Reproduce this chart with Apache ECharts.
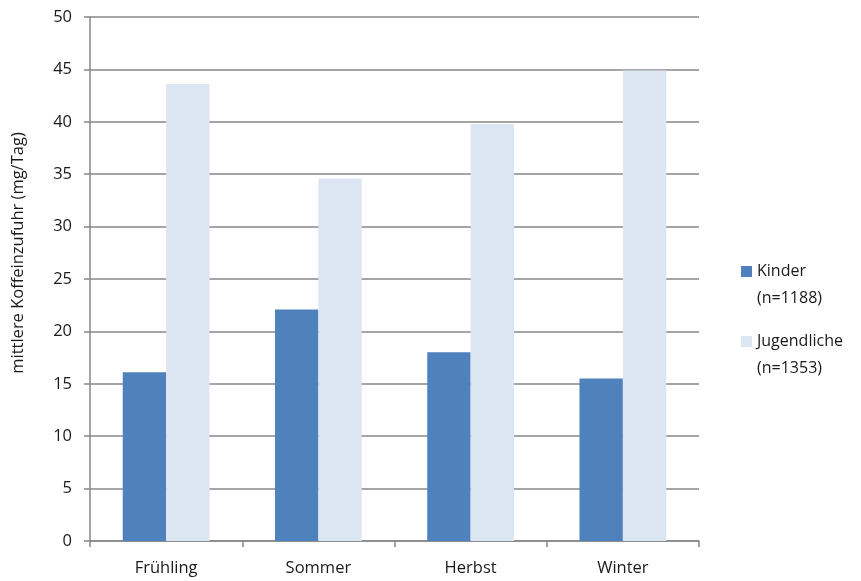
<!DOCTYPE html>
<html>
<head>
<meta charset="utf-8">
<script src="https://cdn.jsdelivr.net/npm/echarts@6/dist/echarts.min.js"></script>
<style>
  html, body { margin: 0; padding: 0; background: #ffffff; }
  #chart { width: 861px; height: 581px; }
</style>
</head>
<body>
<div id="chart"></div>
<script>
// Mean caffeine intake by season (mg/day)
const seasons = ['Frühling', 'Sommer', 'Herbst', 'Winter'];
const kinder = [16.1, 22.1, 18.0, 15.5];
const jugendliche = [43.6, 34.6, 39.8, 44.9];
const sampleSizes = { Kinder: '(n=1188)', Jugendliche: '(n=1353)' };
const yTicks = { min: 0, max: 50, interval: 5 };

const FONT = 'Open Sans';
const GRAY = '#878787';
const TEXT = '#1a1a1a';

// Legend swatch sits beside the first line of a two-line label:
// an 11x11 square at the top of an 11x38 icon box.
const SWATCH = 'path://M0,0H11V11H0Z M0,37.9H0.1V38H0Z';

const chart = echarts.init(document.getElementById('chart'), null, { renderer: 'canvas' });

chart.setOption({
  animation: false,
  backgroundColor: '#ffffff',
  grid: { left: 90, right: 162, top: 17, bottom: 40, containLabel: false, outerBoundsMode: 'none' },
  legend: {
    data: ['Kinder', 'Jugendliche'],
    orient: 'vertical',
    left: 741,
    top: 258,
    icon: SWATCH,
    itemWidth: 11,
    itemHeight: 38,
    itemGap: 16,
    padding: 0,
    selectedMode: false,
    formatter: n => n + '\n' + sampleSizes[n],
    textStyle: {
      fontFamily: FONT,
      fontSize: 16,
      color: TEXT,
      lineHeight: 27
    }
  },
  xAxis: {
    type: 'category',
    data: seasons,
    axisLine: { lineStyle: { color: GRAY, width: 1.5 } },
    axisTick: { show: true, length: 6, lineStyle: { color: GRAY, width: 1.5 } },
    axisLabel: { fontFamily: FONT, fontSize: 16.5, color: TEXT, margin: 19 }
  },
  yAxis: {
    type: 'value',
    min: yTicks.min,
    max: yTicks.max,
    interval: yTicks.interval,
    name: 'mittlere Koffeinzufuhr (mg/Tag)',
    nameLocation: 'middle',
    nameGap: 63,
    nameTextStyle: { fontFamily: FONT, fontSize: 16.5, color: TEXT, padding: [0, 0, 0, 52] },
    axisLine: { show: true, lineStyle: { color: GRAY, width: 1.5 } },
    axisTick: { show: true, length: 6, lineStyle: { color: GRAY, width: 1.5 } },
    axisLabel: { fontFamily: FONT, fontSize: 16.5, color: TEXT, margin: 18 },
    splitLine: { show: true, lineStyle: { color: GRAY, width: 1.5 } }
  },
  series: [
    {
      name: 'Kinder',
      type: 'bar',
      data: kinder,
      barGap: '0%',
      barCategoryGap: '43%',
      itemStyle: { color: '#4f81bd' }
    },
    {
      name: 'Jugendliche',
      type: 'bar',
      data: jugendliche,
      itemStyle: { color: '#dce6f2' }
    }
  ]
});
</script>
</body>
</html>
